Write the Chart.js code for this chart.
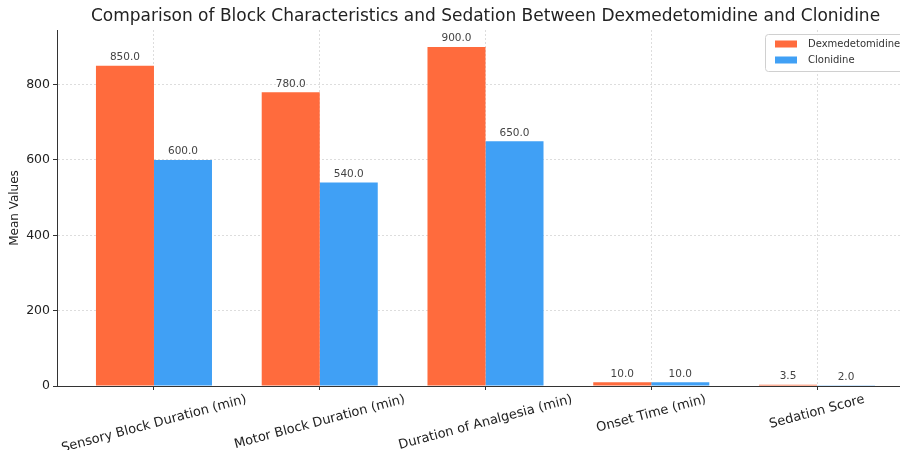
<!DOCTYPE html>
<html>
<head>
<meta charset="utf-8">
<script src="https://cdn.jsdelivr.net/npm/chart.js@4.4.0/dist/chart.umd.min.js"></script>
<style>
  html, body { margin: 0; padding: 0; background: #fff; overflow: hidden; width: 900px; height: 450px; }
  #wrap { width: 970px; height: 450px; }
</style>
</head>
<body>
<div id="wrap"><canvas id="c" width="970" height="450"></canvas></div>
<script>
const categories = ["Sensory Block Duration (min)", "Motor Block Duration (min)", "Duration of Analgesia (min)", "Onset Time (min)", "Sedation Score"];
const dexmedetomidine = [850, 780, 900, 10, 3.5];
const clonidine = [600, 540, 650, 10, 2];
const yTicks = [0, 200, 400, 600, 800];
const seriesNames = ["Dexmedetomidine", "Clonidine"];
const colors = ["#FF6B3D", "#40A0F5"];
const titleText = "Comparison of Block Characteristics and Sedation Between Dexmedetomidine and Clonidine";

const FONT = "'DejaVu Sans', sans-serif";

const valueLabels = {
  id: 'valueLabels',
  afterDatasetsDraw(chart) {
    const ctx = chart.ctx;
    ctx.save();
    ctx.font = "10.5px " + FONT;
    ctx.fillStyle = "#444";
    ctx.textAlign = "center";
    ctx.textBaseline = "bottom";
    chart.data.datasets.forEach((ds, di) => {
      const meta = chart.getDatasetMeta(di);
      meta.data.forEach((bar, i) => {
        ctx.fillText(ds.data[i].y.toFixed(1), bar.x, bar.y - 3);
      });
    });
    ctx.restore();
  }
};

const axesTitle = {
  id: 'axesTitle',
  afterDraw(chart) {
    const ctx = chart.ctx;
    const a = chart.chartArea;
    ctx.save();
    ctx.font = "17px " + FONT;
    ctx.fillStyle = "#222";
    ctx.textAlign = "center";
    ctx.textBaseline = "middle";
    ctx.fillText(titleText, (a.left + a.right) / 2, 17);
    ctx.restore();
  }
};

const xLabels = {
  id: 'xLabels',
  afterDraw(chart) {
    const ctx = chart.ctx;
    const xs = chart.scales.x;
    const top = chart.chartArea.bottom + 7;
    const ang = 15 * Math.PI / 180;
    ctx.save();
    ctx.font = "13px " + FONT;
    ctx.fillStyle = "#222";
    ctx.textAlign = "center";
    ctx.textBaseline = "middle";
    categories.forEach((lab, i) => {
      const w = ctx.measureText(lab).width;
      const h = 13;
      const bh = w * Math.sin(ang) + h * Math.cos(ang);
      const px = xs.getPixelForValue(i);
      ctx.save();
      ctx.translate(px, top + bh / 2);
      ctx.rotate(-ang);
      ctx.fillText(lab, 0, 0);
      ctx.restore();
    });
    ctx.restore();
  }
};

const boxLegend = {
  id: 'boxLegend',
  afterDraw(chart) {
    const ctx = chart.ctx;
    const x0 = 765, y0 = 34, w = 142, h = 37;
    ctx.save();
    ctx.fillStyle = "rgba(255,255,255,0.85)";
    ctx.strokeStyle = "#d0d0d0";
    ctx.lineWidth = 1;
    ctx.beginPath();
    ctx.roundRect(x0 + 0.5, y0 + 0.5, w, h, 3);
    ctx.fill();
    ctx.stroke();
    ctx.font = "10px " + FONT;
    ctx.textAlign = "left";
    ctx.textBaseline = "middle";
    seriesNames.forEach((n, i) => {
      const cy = y0 + 10 + i * 16;
      ctx.fillStyle = colors[i];
      ctx.fillRect(775, cy - 3.5, 22, 7);
      ctx.fillStyle = "#333";
      ctx.fillText(n, 808, cy);
    });
    ctx.restore();
  }
};

const toXY = arr => arr.map((v, i) => ({ x: i, y: v }));

new Chart(document.getElementById('c'), {
  type: 'bar',
  data: {
    datasets: [
      { label: seriesNames[0], data: toXY(dexmedetomidine), backgroundColor: colors[0], categoryPercentage: 0.7, barPercentage: 1.0 },
      { label: seriesNames[1], data: toXY(clonidine), backgroundColor: colors[1], categoryPercentage: 0.7, barPercentage: 1.0 }
    ]
  },
  options: {
    responsive: false,
    animation: false,
    layout: { padding: { left: 0, right: 56, top: 30, bottom: 0 } },
    plugins: {
      legend: { display: false },
      tooltip: { enabled: false },
      title: { display: false }
    },
    scales: {
      x: {
        type: 'linear',
        min: -0.585,
        max: 4.585,
        offset: false,
        afterBuildTicks: s => { s.ticks = categories.map((c, i) => ({ value: i })); },
        afterFit: s => { s.height = 64; },
        ticks: { display: false },
        grid: { offset: false, color: "#dddddd", lineWidth: 1, tickLength: 4, tickColor: "#333", tickBorderDash: [] },
        border: { display: true, color: "#333", width: 1, dash: [2, 2] }
      },
      y: {
        min: 0,
        max: 945,
        afterBuildTicks: s => { s.ticks = yTicks.map(v => ({ value: v })); },
        afterFit: s => { s.width = 57; },
        ticks: { font: { family: FONT, size: 12.5 }, color: "#222", padding: 3 },
        grid: { offset: false, color: "#dddddd", lineWidth: 1, tickLength: 4, tickColor: "#333", tickBorderDash: [] },
        border: { display: true, color: "#333", width: 1, dash: [2, 2] },
        title: { display: true, text: "Mean Values", font: { family: FONT, size: 12 }, color: "#222", padding: { top: 8, bottom: 2 } }
      }
    }
  },
  plugins: [valueLabels, xLabels, boxLegend, axesTitle]
});
</script>
</body>
</html>
